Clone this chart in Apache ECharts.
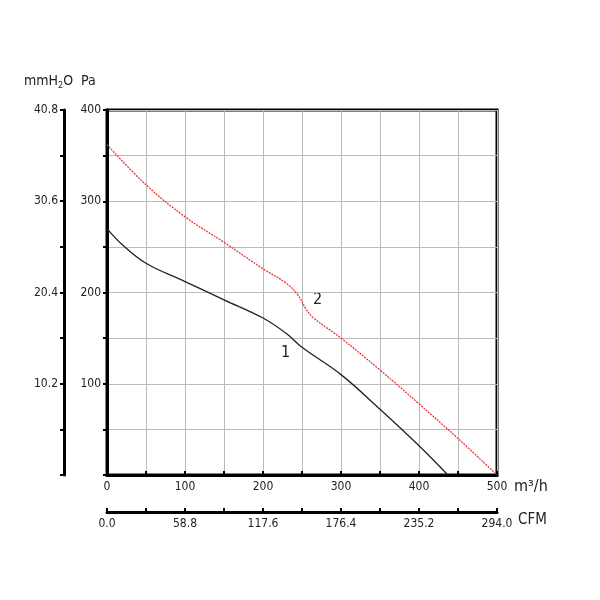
<!DOCTYPE html>
<html><head><meta charset="utf-8">
<script src="https://cdn.jsdelivr.net/npm/echarts@6/dist/echarts.min.js"></script>
<style>html,body{margin:0;background:#fff}#chart{width:600px;height:600px}</style>
</head><body><div id="chart"></div>
<script>
var flow1 = [0, 20, 50, 100, 150, 200, 230, 250, 300, 350, 400, 437];
var pres1 = [270, 252, 232, 212, 192, 172, 155, 140, 110, 72, 32, 0];
var flow2 = [0, 50, 100, 150, 200, 230, 245, 255, 265, 300, 350, 400, 450, 500];
var pres2 = [362, 318, 283, 255, 226, 210, 197, 182, 172, 150, 115, 78, 40, 0];
var font = 'Liberation Sans Narrow, DejaVu Sans Condensed, sans-serif';

var myChart = echarts.init(document.getElementById('chart'));
function zip(a, b) { return a.map(function (v, i) { return [v, b[i]]; }); }
var lbl = { color: '#222', fontFamily: font, fontSize: 12 };
option = {
    animation: false,
    grid: { left: 107, right: 103, top: 110, bottom: 125, show: true, borderColor: '#000', borderWidth: 3 },
    xAxis: [{
        type: 'value', min: 0, max: 500, interval: 50, position: 'bottom',
        axisLine: { onZero: false, lineStyle: { color: '#000', width: 3 } },
        axisTick: { inside: true, length: 4, lineStyle: { color: '#000', width: 2 } },
        axisLabel: Object.assign({ margin: 6, formatter: function (v) { return v % 100 === 0 ? v : ''; } }, lbl),
        splitLine: { show: true, lineStyle: { color: '#bbb' } }
    }, {
        type: 'value', min: 0, max: 294, interval: 29.4, position: 'bottom', offset: 37,
        axisLine: { onZero: false, lineStyle: { color: '#000', width: 3 } },
        axisTick: { inside: true, length: 4, lineStyle: { color: '#000', width: 2 } },
        axisLabel: Object.assign({ margin: 6, formatter: function (v) { return Math.round(v / 29.4) % 2 === 0 ? v.toFixed(1) : ''; } }, lbl),
        splitLine: { show: false }
    }],
    yAxis: [{
        type: 'value', min: 0, max: 400, interval: 50, position: 'left',
        axisLine: { onZero: false, lineStyle: { color: '#000', width: 3 } },
        axisTick: { length: 4, lineStyle: { color: '#000', width: 2 } },
        axisLabel: Object.assign({ margin: 6, formatter: function (v) { return v % 100 === 0 && v > 0 ? v : ''; } }, lbl),
        splitLine: { show: true, lineStyle: { color: '#bbb' } }
    }, {
        type: 'value', min: 0, max: 40.8, interval: 5.1, position: 'left', offset: 43,
        axisLine: { onZero: false, lineStyle: { color: '#000', width: 3 } },
        axisTick: { length: 4, lineStyle: { color: '#000', width: 2 } },
        axisLabel: Object.assign({ margin: 6, formatter: function (v) { var k = Math.round(v / 5.1); return k % 2 === 0 && k > 0 ? v.toFixed(1) : ''; } }, lbl),
        splitLine: { show: false }
    }],
    graphic: [{
        type: 'text', left: 24, top: 74,
        style: { text: '{a|mmH}{s|2}{a|O  Pa}', rich: { a: { fontSize: 14, fontFamily: font, fill: '#222' }, s: { fontSize: 9, fontFamily: font, fill: '#222', padding: [10, 0, 0, 0] } } }
    }, {
        type: 'text', left: 514, top: 479, style: { text: 'm³/h', fontSize: 16, fontFamily: font, fill: '#222' }
    }, {
        type: 'text', left: 518, top: 513, style: { text: 'CFM', fontSize: 15, fontFamily: font, fill: '#222' }
    }, {
        type: 'text', left: 281, top: 345, style: { text: '1', fontSize: 16, fontFamily: font, fill: '#222' }
    }, {
        type: 'text', left: 313, top: 292, style: { text: '2', fontSize: 16, fontFamily: font, fill: '#222' }
    }],
    series: [{
        name: '1', type: 'line', smooth: 0.4, showSymbol: false,
        lineStyle: { color: '#222', width: 1.3 }, data: zip(flow1, pres1)
    }, {
        name: '2', type: 'line', smooth: 0.4, showSymbol: false,
        lineStyle: { color: '#e8383d', width: 1.3, type: [2, 1] }, data: zip(flow2, pres2)
    }]
};
myChart.setOption(option);
</script></body></html>
